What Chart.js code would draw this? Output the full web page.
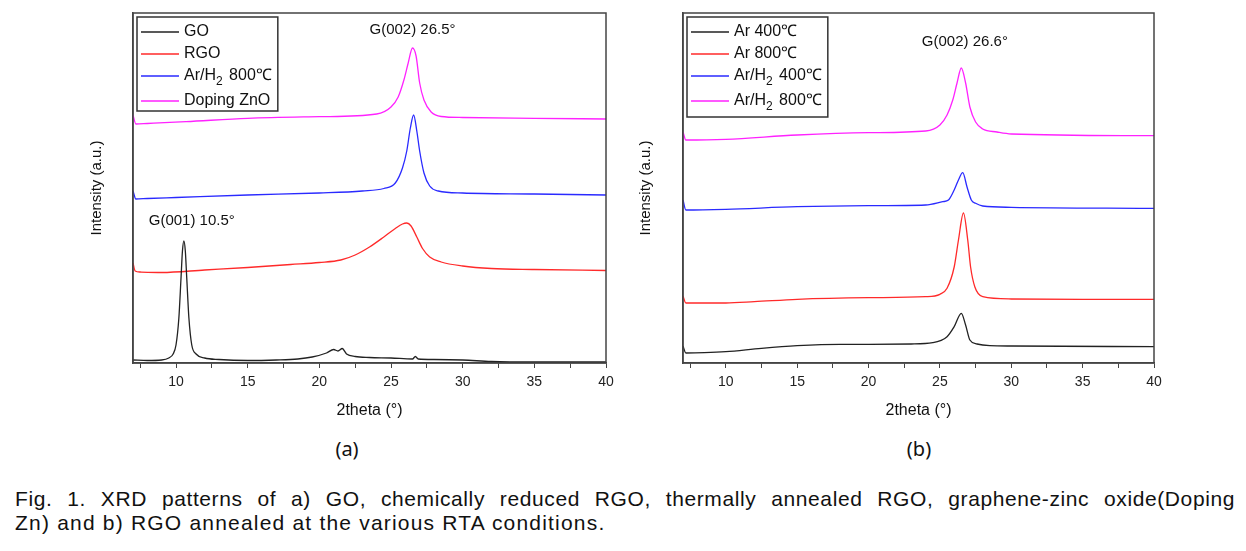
<!DOCTYPE html>
<html>
<head>
<meta charset="utf-8">
<script src="https://cdn.jsdelivr.net/npm/chart.js@4.4.1/dist/chart.umd.min.js"></script>
<style>
  body { margin: 0; background: #fff; width: 1246px; height: 551px; position: relative; overflow: hidden; }
  canvas { position: absolute; top: 0; }
  #chartA { left: 84px; }
  #chartB { left: 633px; }
  .panel { position: absolute; top: 435px; width: 60px; text-align: center; font: 20px "Noto Sans", "Liberation Sans", sans-serif; color: #111; }
  #caption { position: absolute; left: 15px; top: 487px; width: 1220px; font: 21px "Liberation Sans", Arial, sans-serif; letter-spacing: 1.2px; line-height: 24px; color: #111; }
  #caption .first { text-align: justify; text-align-last: justify; letter-spacing: 0.6px; }
</style>
</head>
<body>
<canvas id="chartA" width="536" height="430"></canvas>
<canvas id="chartB" width="535" height="430"></canvas>
<div class="panel" style="left:317px">(a)</div>
<div class="panel" style="left:889px">(b)</div>
<div id="caption">
  <div class="first">Fig. 1. XRD patterns of a) GO, chemically reduced RGO, thermally annealed RGO, graphene-zinc oxide(Doping</div>
  <div>Zn) and b) RGO annealed at the various RTA conditions.</div>
</div>
<script>
// x axis ticks (every 2.5 deg, labels only on multiples of 5)
var xTicks = [7.5, 10, 12.5, 15, 17.5, 20, 22.5, 25, 27.5, 30, 32.5, 35, 37.5, 40];

// ---- panel (a) ----
var goX = [7, 8, 9, 9.5, 9.8, 10, 10.2, 10.35, 10.45, 10.55, 10.65, 10.75, 10.9, 11.1, 11.4, 12, 13, 15, 17, 18.5, 19.5, 20.5, 21, 21.3, 21.6, 21.9, 22.5, 23.5, 25, 26.5, 26.7, 26.9, 28, 30, 32, 35, 40];
var goY = [3, 2.5, 3, 5, 9, 18, 45, 85, 112, 122, 112, 85, 45, 18, 9, 5, 3.5, 2.5, 3, 4, 6, 10, 13.5, 12, 14.5, 9, 6.5, 5.5, 5, 4, 6.5, 4, 3.5, 3, 1.5, 1, 1];

var rgoX = [7, 7.15, 7.5, 9, 12, 15, 18, 20, 21.5, 22.5, 23.5, 24.5, 25.3, 25.8, 26.1, 26.4, 26.8, 27.2, 27.7, 28.5, 30, 32, 35, 40];
var rgoY = [100, 92, 91, 90.5, 93, 95.5, 98.5, 100.5, 103, 108, 116, 126, 134.5, 139, 140, 137, 126, 114.5, 106, 101, 97, 94.5, 93.5, 92.5];

var annX = [7, 7.2, 8, 10, 15, 20, 23, 24.5, 25.3, 25.8, 26.1, 26.35, 26.58, 26.8, 27.0, 27.3, 27.7, 28.3, 30, 35, 40];
var annY = [172, 164, 164.5, 165.5, 168, 170, 172, 174.5, 180, 195, 212, 235, 248, 232, 212, 190, 177, 172, 170, 169, 168];

var znoX = [7, 7.2, 8, 10.7, 15, 20, 24, 25, 25.5, 25.9, 26.2, 26.5, 26.75, 27.0, 27.3, 27.8, 28.5, 30, 35, 40];
var znoY = [248, 239, 239.5, 241.3, 244.7, 246.3, 249, 256, 266, 283, 300, 315, 307, 280, 263, 251, 246.5, 245.5, 244.7, 244];

var labelsA = ["GO", "RGO", "Ar/H₂ 800℃", "Doping ZnO"];

// ---- panel (b) ----
var ar400X = [7, 7.2, 8.5, 10, 12.5, 15, 18, 20, 23, 24.5, 25.5, 26, 26.5, 26.8, 27.1, 27.6, 28.5, 30, 40];
var ar400Y = [17, 10, 10.3, 11.3, 14.7, 17.3, 18.7, 18.7, 19, 20.3, 26.3, 36.3, 49.7, 38, 23, 19, 17.3, 17, 16.3];

var ar800X = [7, 7.2, 10, 12, 15, 20, 24, 25, 25.5, 26, 26.3, 26.65, 26.95, 27.15, 27.45, 28, 30, 35, 40];
var ar800Y = [67, 60, 60, 61.3, 63.7, 65.3, 66.3, 68.7, 74.7, 96, 123, 150, 123, 96, 76, 66.3, 64, 63.7, 63.7];

var arh400X = [7, 7.2, 10, 15, 20, 24, 25.2, 25.6, 26.0, 26.3, 26.6, 26.9, 27.2, 27.5, 28, 30, 40];
var arh400Y = [163, 153, 153.7, 156.3, 157.3, 158, 161.3, 163, 173, 183, 190.3, 176, 163, 159.7, 157, 155.7, 154.7];

var arh800X = [7, 7.2, 10, 15, 20, 24, 25, 25.5, 25.9, 26.2, 26.5, 26.8, 27.1, 27.5, 28, 29, 30, 40];
var arh800Y = [231, 223, 223.7, 228, 230.3, 232, 238, 248, 263, 280, 295, 280, 256, 241, 234, 231, 229, 227.3];

var labelsB = ["Ar 400℃", "Ar 800℃", "Ar/H₂ 400℃", "Ar/H₂ 800℃"];

var lineColors = ["#222222", "#ff2a2a", "#2a2aff", "#ff22ff"];

// peak labels: [text, 2theta, intensity]
var peakTextA = [["G(002) 26.5°", 26.5, 333], ["G(001) 10.5°", 11.1, 142]];
var peakTextB = [["G(002) 26.6°", 26.75, 321]];

var fontFam = '"Liberation Sans", Arial, sans-serif';
Chart.defaults.font.family = fontFam;
Chart.defaults.color = "#222";

function toPoints(xs, ys) {
    var pts = [];
    for (var i = 0; i < xs.length; i++) {
        pts.push({ x: xs[i], y: ys[i] });
    }
    return pts;
}

function makeDatasets(labels, series) {
    var sets = [];
    for (var i = 0; i < labels.length; i++) {
        sets.push({
            label: labels[i],
            data: toPoints(series[i][0], series[i][1]),
            borderColor: lineColors[i],
            borderWidth: 1.3,
            pointRadius: 0,
            cubicInterpolationMode: "monotone",
            fill: false
        });
    }
    return sets;
}

// frame around the plot area
var framePlugin = {
    id: "frame",
    afterDraw: function (chart) {
        var a = chart.chartArea;
        var ctx = chart.ctx;
        ctx.save();
        ctx.strokeStyle = "#444";
        ctx.lineWidth = 1.5;
        ctx.strokeRect(a.left, a.top, a.right - a.left, a.bottom - a.top);
        ctx.restore();
    }
};

// draws a label, with "₂" turned into a real subscript
function drawLabel(ctx, text, x, y, doDraw) {
    var parts = text.split("₂");
    var cx = x;
    for (var i = 0; i < parts.length; i++) {
        ctx.font = "16px " + fontFam;
        if (doDraw) ctx.fillText(parts[i], cx, y);
        cx += ctx.measureText(parts[i]).width;
        if (i < parts.length - 1) {
            ctx.font = "12px " + fontFam;
            if (doDraw) ctx.fillText("2", cx, y + 6);
            cx += ctx.measureText("2").width + 2;
        }
    }
    return cx - x;
}

// legend in a box in the upper left corner
var boxLegend = {
    id: "boxLegend",
    afterDraw: function (chart) {
        var ctx = chart.ctx;
        var a = chart.chartArea;
        var sets = chart.data.datasets;
        var x0 = a.left + 4;
        var y0 = a.top + 4;
        ctx.save();
        ctx.textBaseline = "middle";
        var w = 0;
        var rows = [];
        var y = a.top + 19;
        for (var i = 0; i < sets.length; i++) {
            w = Math.max(w, drawLabel(ctx, sets[i].label, 0, 0, false));
            rows.push(y);
            y += sets[i].label.indexOf("₂") >= 0 ? 25 : 22;
        }
        var last = sets[sets.length - 1].label.indexOf("₂") >= 0;
        var boxW = 47 + w + 6;
        var boxH = rows[rows.length - 1] + (last ? 16 : 10) - y0;
        ctx.fillStyle = "#fff";
        ctx.fillRect(x0, y0, boxW, boxH);
        ctx.strokeStyle = "#333";
        ctx.lineWidth = 1.5;
        ctx.strokeRect(x0, y0, boxW, boxH);
        for (var j = 0; j < sets.length; j++) {
            ctx.strokeStyle = sets[j].borderColor;
            ctx.lineWidth = 1.3;
            ctx.beginPath();
            ctx.moveTo(x0 + 4, rows[j]);
            ctx.lineTo(x0 + 42, rows[j]);
            ctx.stroke();
            ctx.fillStyle = "#111";
            drawLabel(ctx, sets[j].label, x0 + 47, rows[j], true);
        }
        ctx.restore();
    }
};

// peak annotations placed by data coordinates
var peakLabels = {
    id: "peakLabels",
    afterDraw: function (chart, args, opts) {
        var ctx = chart.ctx;
        var xs = chart.scales.x;
        var ys = chart.scales.y;
        ctx.save();
        ctx.font = "15px " + fontFam;
        ctx.fillStyle = "#111";
        ctx.textAlign = "center";
        ctx.textBaseline = "middle";
        for (var i = 0; i < opts.items.length; i++) {
            var it = opts.items[i];
            ctx.fillText(it[0], xs.getPixelForValue(it[1]), ys.getPixelForValue(it[2]));
        }
        ctx.restore();
    }
};

function makeChart(id, datasets, peaks, yAxisWidth) {
    return new Chart(document.getElementById(id), {
        type: "line",
        data: { datasets: datasets },
        plugins: [framePlugin, boxLegend, peakLabels],
        options: {
            responsive: false,
            animation: false,
            events: [],
            layout: { padding: { left: 0, right: 14, top: 13, bottom: 0 } },
            plugins: {
                legend: { display: false },
                tooltip: { enabled: false },
                peakLabels: { items: peaks }
            },
            scales: {
                x: {
                    type: "linear",
                    min: 7,
                    max: 40,
                    afterBuildTicks: function (scale) {
                        scale.ticks = xTicks.map(function (v) { return { value: v }; });
                    },
                    afterFit: function (scale) { scale.height = 67; },
                    ticks: {
                        autoSkip: false,
                        maxRotation: 0,
                        padding: 6,
                        color: "#222",
                        font: { size: 14 },
                        callback: function (v) { return v % 5 === 0 ? String(v) : ""; }
                    },
                    grid: { drawOnChartArea: false, drawTicks: true, tickLength: 5, tickColor: "#444", tickWidth: 1 },
                    border: { color: "#444", width: 1.5 },
                    title: { display: true, text: "2theta (°)", font: { size: 16 }, color: "#111", padding: { top: 4, bottom: 10 } }
                },
                y: {
                    min: 0,
                    max: 350,
                    afterFit: function (scale) { scale.width = yAxisWidth; },
                    ticks: { display: false },
                    grid: { display: false },
                    border: { color: "#444", width: 1.5 },
                    title: { display: true, text: "Intensity (a.u.)", font: { size: 15 }, color: "#111", padding: { top: 4, bottom: 4 } }
                }
            }
        }
    });
}

function main() {
    var setsA = makeDatasets(labelsA, [[goX, goY], [rgoX, rgoY], [annX, annY], [znoX, znoY]]);
    var setsB = makeDatasets(labelsB, [[ar400X, ar400Y], [ar800X, ar800Y], [arh400X, arh400Y], [arh800X, arh800Y]]);
    makeChart("chartA", setsA, peakTextA, 49);
    makeChart("chartB", setsB, peakTextB, 50);
}

main();
</script>
</body>
</html>
